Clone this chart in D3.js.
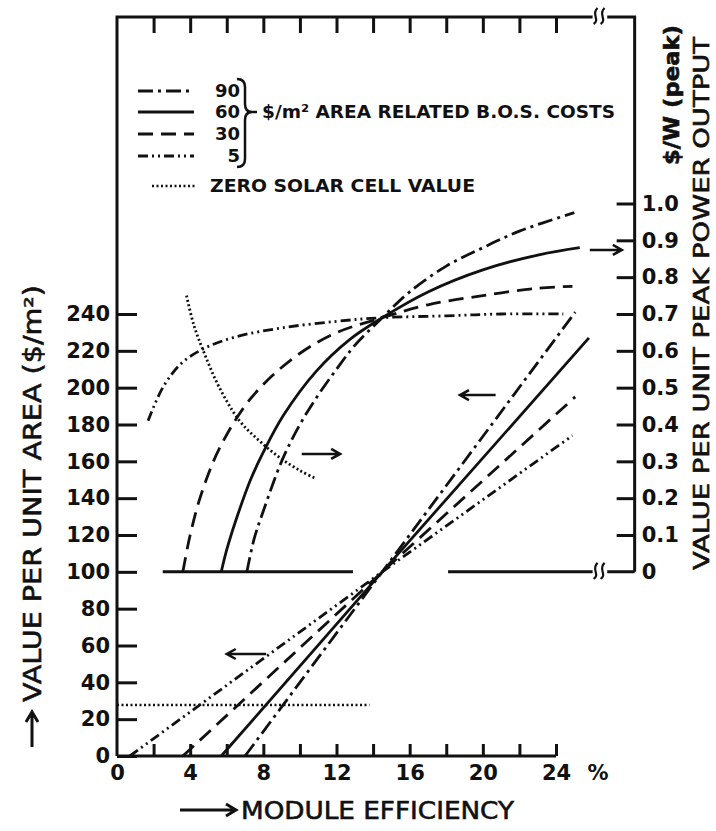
<!DOCTYPE html>
<html>
<head>
<meta charset="utf-8">
<script src="https://cdn.jsdelivr.net/npm/d3@7"></script>
<style>
  body { margin: 0; background: #fff; }
  svg { display: block; }
  text { font-family: 'DejaVu Sans', sans-serif; fill: #111; }
  .tick text { font-size: 21px; font-weight: bold; }
  .tick line { stroke: #111; stroke-width: 3; }
  .title { font-size: 24px; stroke: #111; stroke-width: 0.6; }
  .legend { font-size: 18px; font-weight: bold; }
</style>
</head>
<body>
<svg id="chart" width="716" height="831"></svg>
<script>
// ticks
const effTicks = [0, 2, 4, 6, 8, 10, 12, 14, 16, 18, 20, 22, 24]
const areaTicks = [0, 20, 40, 60, 80, 100, 120, 140, 160, 180, 200, 220, 240]
const peakTicks = [0, 0.1, 0.2, 0.3, 0.4, 0.5, 0.6, 0.7, 0.8, 0.9, 1.0]

const bosLevels = ['90', '60', '30', '5']

// value per unit area ($/m2) vs module efficiency (%)
const area90 = [[7.0, 0], [14.5, 100], [25.05, 241]]
const area60 = [[5.7, 0], [14.5, 100], [25.8, 227]]
const area30 = [[3.6, 0], [14.5, 100], [25.05, 195]]
const area5 = [[0.7, 0], [14.5, 100], [24.9, 174]]
const areaZero = [[0, 27.7], [13.8, 27.7]]

// value per unit peak power output ($/W peak) vs module efficiency (%)
const peak90 = [[7.1, 0], [7.5, 0.09], [8, 0.165], [9, 0.3], [10, 0.4], [11, 0.48], [12, 0.55],
  [13, 0.615], [14.5, 0.69], [16, 0.76], [18, 0.83], [20, 0.88], [22, 0.925], [25, 0.975]]
const peak60 = [[5.7, 0], [6, 0.06], [6.5, 0.14], [7.3, 0.25], [8, 0.325], [9.1, 0.425], [10.9, 0.545],
  [12.7, 0.63], [14.5, 0.69], [17, 0.76], [20, 0.82], [23, 0.86], [25.3, 0.88]]
const peak30 = [[3.6, 0], [4.0, 0.1], [4.6, 0.21], [5.6, 0.335], [7.3, 0.47], [9.5, 0.575], [11.8, 0.645],
  [14.5, 0.69], [17, 0.725], [20, 0.75], [23, 0.77], [24.9, 0.775]]
const peak5 = [[1.7, 0.41], [2.5, 0.5], [3.5, 0.565], [4.7, 0.605], [6.5, 0.638], [9.1, 0.663],
  [12, 0.68], [14.5, 0.69], [18, 0.695], [21, 0.7], [24.4, 0.7]]
const peakZero = [[3.8, 0.75], [4.2, 0.67], [4.8, 0.59], [5.6, 0.5], [6.7, 0.41], [7.8, 0.355],
  [8.9, 0.31], [10, 0.275], [10.8, 0.255]]

const dashes = { '90': '15,5,3,5', '60': null, '30': '15,8', '5': '10,4,2,4,2,4', zero: '2,2.5' }

const svg = d3.select('#chart')

const x = d3.scaleLinear().domain([0, 24]).range([117, 556])
const y = d3.scaleLinear().domain([0, 240]).range([756, 314])
const yR = d3.scaleLinear().domain([0, 1]).range([y(100), y(300)])

const frameTop = 17
const frameRight = x(28.3)

const ink = '#111'

// frame
const frame = svg.append('g').attr('fill', 'none').attr('stroke', ink).attr('stroke-width', 3)
frame.append('path')
  .attr('d', `M${x(0)},${y(0)}V${frameTop}H${x(26)}M${x(26.8)},${frameTop}H${frameRight}V${yR(0)}`)
frame.append('path').attr('d', `M${x(0)},${y(0)}H${x(24)}`)
// zero line of the peak power scale
frame.append('path').attr('d', `M${x(2.5)},${yR(0)}H${x(12.9)}M${x(18.1)},${yR(0)}H${x(26)}M${x(26.8)},${yR(0)}H${frameRight}`)

const breakMark = (bx, by) => {
  [0, 7].forEach((o) => {
    frame.append('path')
      .attr('stroke-width', 2.2)
      .attr('d', `M${bx + o - 2},${by + 7}C${bx + o + 5},${by + 3} ${bx + o - 5},${by - 3} ${bx + o + 2},${by - 9}`)
  })
}
breakMark(x(26) + 3, frameTop)
breakMark(x(26) + 3, yR(0))

// axes
const leftAxis = svg.append('g')
  .attr('transform', `translate(${x(0)},0)`)
  .call(d3.axisLeft(y).tickValues(areaTicks).tickSize(-20).tickPadding(7))
leftAxis.select('.domain').remove()

const bottomAxis = svg.append('g')
  .attr('transform', `translate(0,${y(0)})`)
  .call(d3.axisBottom(x).tickValues(effTicks).tickSize(-12).tickPadding(9)
    .tickFormat((d) => d % 4 === 0 ? d : ''))
bottomAxis.select('.domain').remove()
bottomAxis.selectAll('.tick').filter((d) => d === 0).select('line').remove()

const topAxis = svg.append('g')
  .attr('transform', `translate(0,${frameTop})`)
  .call(d3.axisTop(x).tickValues(effTicks.filter((d) => d > 0)).tickSize(-16).tickFormat(''))
topAxis.select('.domain').remove()

const rightAxis = svg.append('g')
  .attr('transform', `translate(${frameRight},0)`)
  .call(d3.axisRight(yR).tickValues(peakTicks).tickSize(-18).tickPadding(7)
    .tickFormat((d) => d === 0 ? '0' : d3.format('.1f')(d)))
rightAxis.select('.domain').remove()
rightAxis.selectAll('.tick').filter((d) => d === 0).select('line').remove()

svg.append('text').attr('x', 598).attr('y', y(0) + 9).attr('dy', '0.71em')
  .attr('text-anchor', 'middle').style('font-size', '21px').style('font-weight', 'bold').text('%')

// curves
const areaLine = d3.line().x((d) => x(d[0])).y((d) => y(d[1]))
const peakLine = d3.line().x((d) => x(d[0])).y((d) => yR(d[1])).curve(d3.curveCatmullRom.alpha(0.5))

const series = [
  { key: '90', area: area90, peak: peak90 },
  { key: '60', area: area60, peak: peak60 },
  { key: '30', area: area30, peak: peak30 },
  { key: '5', area: area5, peak: peak5 }
]

const plot = svg.append('g').attr('fill', 'none').attr('stroke', ink).attr('stroke-width', 2.8)
series.forEach((s) => {
  plot.append('path').attr('d', areaLine(s.area)).attr('stroke-dasharray', dashes[s.key])
  plot.append('path').attr('d', peakLine(s.peak)).attr('stroke-dasharray', dashes[s.key])
})
plot.append('path').attr('d', areaLine(areaZero)).attr('stroke-dasharray', dashes.zero).attr('stroke-width', 2.5)
plot.append('path').attr('d', peakLine(peakZero)).attr('stroke-dasharray', dashes.zero).attr('stroke-width', 2.8)

// arrows
const arrow = (x1, y1, x2, y2) => {
  const dir = Math.sign(x2 - x1)
  plot.append('path').attr('stroke-width', 2.5)
    .attr('d', `M${x1},${y1}L${x2},${y2}M${x2 - dir * 9},${y2 - 5}L${x2},${y2}L${x2 - dir * 9},${y2 + 5}`)
}
arrow(x(25.85), yR(0.874), x(27.6), yR(0.874))
arrow(x(10.1), yR(0.32), x(12.2), yR(0.32))
arrow(x(20.7), y(196), x(18.75), y(196))
arrow(x(8.15), y(55.4), x(6.0), y(55.4))

// legend
const legend = svg.append('g')
const rowY = [91, 112, 134, 156]
bosLevels.forEach((k, i) => {
  legend.append('path').attr('fill', 'none').attr('stroke', ink).attr('stroke-width', 2.8)
    .attr('stroke-dasharray', dashes[k])
    .attr('d', d3.line()([[138, rowY[i]], [194, rowY[i]]]))
  legend.append('text').attr('class', 'legend').attr('x', 240).attr('y', rowY[i])
    .attr('dy', '0.36em').attr('text-anchor', 'end').text(k)
})
legend.append('path').attr('fill', 'none').attr('stroke', ink).attr('stroke-width', 2.5)
  .attr('d', 'M237,79Q245,79 245,87V104Q245,112 252,112Q245,112 245,120V159Q245,167 237,167M252,112H257')
legend.append('text').attr('class', 'legend').attr('x', 262).attr('y', 112).attr('dy', '0.36em')
  .attr('textLength', 353).attr('lengthAdjust', 'spacingAndGlyphs')
  .text('$/m² AREA RELATED B.O.S. COSTS')
legend.append('path').attr('fill', 'none').attr('stroke', ink).attr('stroke-width', 2.5)
  .attr('stroke-dasharray', dashes.zero).attr('d', 'M152,186H195')
legend.append('text').attr('class', 'legend').attr('x', 210).attr('y', 186).attr('dy', '0.36em')
  .attr('textLength', 265).attr('lengthAdjust', 'spacingAndGlyphs')
  .text('ZERO SOLAR CELL VALUE')

// titles
svg.append('text').attr('class', 'title').attr('x', 241).attr('y', 810).attr('dy', '0.36em')
  .attr('textLength', 273).attr('lengthAdjust', 'spacingAndGlyphs').text('MODULE EFFICIENCY')
svg.append('path').attr('fill', 'none').attr('stroke', ink).attr('stroke-width', 3)
  .attr('d', 'M180,810H236M226,804L236,810L226,816')

svg.append('text').attr('class', 'title').attr('transform', 'translate(32,702) rotate(-90)')
  .attr('dy', '0.36em').attr('textLength', 417).attr('lengthAdjust', 'spacingAndGlyphs')
  .text('VALUE PER UNIT AREA ($/m²)')
svg.append('path').attr('fill', 'none').attr('stroke', ink).attr('stroke-width', 3)
  .attr('d', 'M32,747V712M26,722L32,712L38,722')

svg.append('text').attr('class', 'title').attr('transform', 'translate(701,570) rotate(-90)')
  .attr('dy', '0.36em').attr('textLength', 533).attr('lengthAdjust', 'spacingAndGlyphs')
  .style('font-size', '22px')
  .text('VALUE PER UNIT PEAK POWER OUTPUT')
svg.append('text').attr('class', 'title').attr('transform', 'translate(671,165) rotate(-90)')
  .attr('dy', '0.36em').attr('textLength', 140).attr('lengthAdjust', 'spacingAndGlyphs')
  .style('font-size', '21px').style('font-weight', 'bold').text('$/W (peak)')
</script>
</body>
</html>
